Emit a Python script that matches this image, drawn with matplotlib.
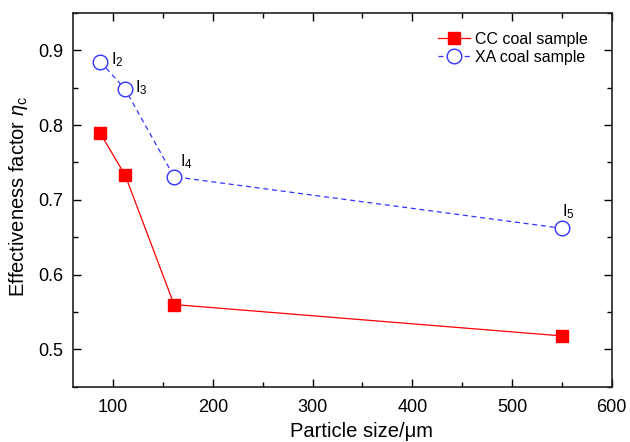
import matplotlib
matplotlib.use("Agg")
import matplotlib.pyplot as plt
from matplotlib.ticker import MultipleLocator

plt.rcParams['font.family'] = ['Liberation Sans', 'DejaVu Sans']
plt.rcParams['mathtext.fontset'] = 'custom'
plt.rcParams['mathtext.rm'] = 'Liberation Sans'
plt.rcParams['mathtext.it'] = 'Liberation Sans:italic'

particle_size = [87, 112, 161, 550]
cc_values = [0.789, 0.733, 0.560, 0.518]
xa_values = [0.885, 0.848, 0.731, 0.662]
point_labels = ['I$_2$', 'I$_3$', 'I$_4$', 'I$_5$']
label_offsets = [(11, -3), (10, -3), (6, 10), (0, 12)]

fig = plt.figure(figsize=(6.3, 4.42), dpi=100)
ax = fig.add_axes([0.1164, 0.125, 0.971 - 0.1164, 0.9706 - 0.125])

ax.plot(particle_size, cc_values, color='#ff0000', lw=0.9, ls='-',
        marker='s', ms=8.5, mfc='#ff0000', mec='#ff0000', label='CC coal sample')
ax.plot(particle_size, xa_values, color='#3333ff', lw=0.9, ls=(0, (4, 3)),
        marker='o', ms=10.5, mfc='white', mec='#3333ff', mew=1.0, label='XA coal sample')

for x, y, lab, off in zip(particle_size, xa_values, point_labels, label_offsets):
    ax.annotate(lab, (x, y), xytext=off, textcoords='offset pixels',
                ha='left', va='baseline', fontsize=12)

ax.set_xlim(60, 600)
ax.set_ylim(0.45, 0.95)
ax.xaxis.set_major_locator(MultipleLocator(100))
ax.xaxis.set_minor_locator(MultipleLocator(50))
ax.yaxis.set_major_locator(MultipleLocator(0.1))
ax.yaxis.set_minor_locator(MultipleLocator(0.05))
ax.tick_params(which='both', direction='in', top=True, right=True, width=1.0)
ax.tick_params(which='major', length=6, labelsize=13)
ax.tick_params(which='minor', length=3.5)
ax.tick_params(axis='x', which='major', pad=9)
ax.tick_params(axis='y', which='major', pad=7)
for s in ax.spines.values():
    s.set_linewidth(1.2)
    s.set_color('#222222')

ax.set_xlabel('Particle size/μm', fontsize=14.5)
ax.set_ylabel('Effectiveness factor $\\mathit{\\eta}_{\\mathrm{c}}$', fontsize=14.5)
ax.xaxis.set_label_coords(0.536, -0.093)
ax.yaxis.set_label_coords(-0.080, 0.51)

ax.legend(loc='upper left', frameon=False, fontsize=11.5, handlelength=2.0,
          borderpad=0, borderaxespad=0, handletextpad=0.3, labelspacing=0.2,
          bbox_to_anchor=(0.677, 0.95))

fig.savefig('out.png', dpi=100)
